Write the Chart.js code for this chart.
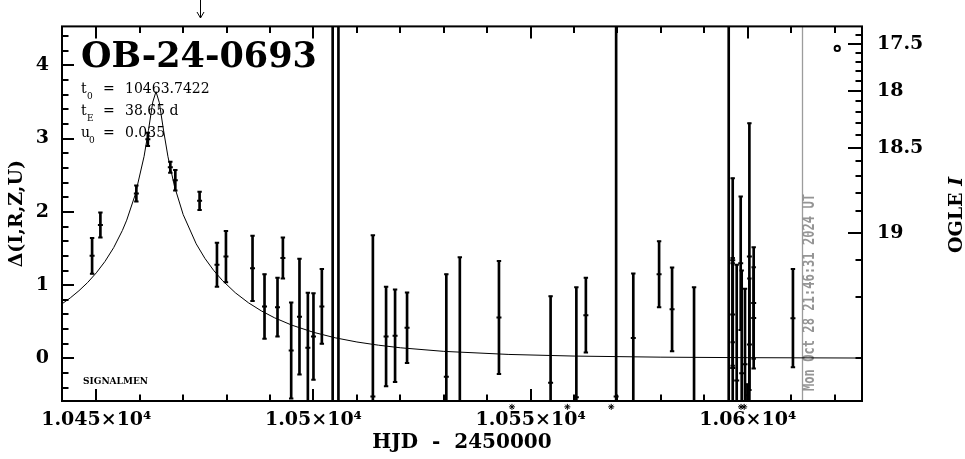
<!DOCTYPE html>
<html>
<head>
<meta charset="utf-8">
<script src="https://cdn.jsdelivr.net/npm/chart.js@4/dist/chart.umd.min.js"></script>
<style>
html,body{margin:0;padding:0;background:#fff;}
#wrap{width:965px;height:459px;position:relative;}
canvas{display:block;}
</style>
</head>
<body>
<div id="wrap"><canvas id="c" width="965" height="459"></canvas></div>
<script>
// ---- event info ----
const eventName = 'OB-24-0693';
const fitT0 = '10463.7422';
const fitTE = '38.65';
const fitU0 = '0.035';
const pipelineLabel = 'SIGNALMEN';

// ---- photometry: HJD-2450000, Delta (mag), error ----
const hjd = [10449.03, 10450.94, 10459.22, 10461.87, 10467.04, 10468.19, 10473.78, 10477.78, 10479.85, 10485.97,
             10488.73, 10491.72, 10492.96, 10494.87, 10496.78, 10498.71, 10500.00, 10501.93, 10504.42, 10505.75,
             10513.68, 10516.72, 10518.79, 10521.55, 10530.59, 10533.70, 10542.71, 10554.60, 10560.53, 10562.72,
             10569.69, 10573.64, 10579.58, 10582.57, 10587.63, 10595.61, 10596.53, 10596.53, 10596.53, 10597.45,
             10598.37, 10598.60, 10599.36, 10599.91, 10600.37, 10600.37, 10601.36, 10601.36, 10610.40];
const delta = [1.40, 1.82, 2.25, 2.99, 2.61, 2.43, 2.15, 1.28, 1.39, 1.23,
               0.71, 0.70, 1.37, 0.11, 0.57, 0.145, 0.30, 0.71, -0.70, -0.70,
               -0.52, 0.30, 0.31, 0.42, -0.25, -0.75, 0.56, -0.33, -0.53, 0.59,
               -0.52, 0.28, 1.15, 0.67, -0.60, -0.70, 1.34, 0.60, -0.13, -0.30,
               1.30, -0.20, -0.08, -0.50, 1.39, 0.19, 0.757, 0.553, 0.55];
const err = [0.245, 0.17, 0.11, 0.09, 0.075, 0.14, 0.125, 0.30, 0.35, 0.445,
             0.44, 0.40, 0.28, 0.655, 0.79, 0.75, 0.59, 0.51, 9.0, 9.0,
             2.20, 0.68, 0.63, 0.48, 1.40, 2.13, 0.77, 1.18, 1.50, 0.51,
             9.0, 0.88, 0.45, 0.57, 1.57, 9.0, 1.12, 0.70, 1.50, 1.58,
             0.91, 1.40, 1.03, 0.15, 1.82, 0.90, 0.76, 0.69, 0.67];

// points falling below the plotted range (marked with asterisks under the axis)
const offscaleHJD = [10545.70, 10558.46, 10568.56, 10598.44, 10599.18];
const offscaleDelta = [-0.66, -0.66, -0.66, -0.66, -0.66];

// single open-circle marker near the top right
const markerHJD = [10620.6];
const markerDelta = [4.23];

// ---- model curve ----
const modelHJD = [10442, 10444, 10446, 10448, 10450, 10452, 10454, 10456, 10457, 10459,
                  10461, 10462, 10463, 10463.74, 10464.5, 10465.5, 10466.5, 10468, 10470, 10473,
                  10475, 10477, 10479, 10482, 10485, 10488, 10491, 10495, 10500, 10505,
                  10510, 10515, 10520, 10530, 10545, 10560, 10580, 10600, 10627];
const modelDelta = [0.741, 0.826, 0.924, 1.036, 1.168, 1.324, 1.512, 1.746, 1.887, 2.242,
                    2.757, 3.110, 3.498, 3.640, 3.492, 3.104, 2.752, 2.348, 1.963, 1.564,
                    1.366, 1.203, 1.066, 0.897, 0.761, 0.649, 0.556, 0.455, 0.357, 0.282,
                    0.225, 0.181, 0.146, 0.097, 0.055, 0.033, 0.018, 0.011, 0.006];

// ---- axes ----
const xMin = 10442.1, xMax = 10626.3;
const yMin = -0.58, yMax = 4.53;
const xTickValues = [10450, 10500, 10550, 10600];
const xTickLabels = ['1.045×10⁴', '1.05×10⁴', '1.055×10⁴', '1.06×10⁴'];
const yTickValues = [0, 1, 2, 3, 4];
const yTickLabels = ['0', '1', '2', '3', '4'];
const ogleMajorMags = [17.5, 18, 18.5, 19];
const ogleMajorLabels = ['17.5', '18', '18.5', '19'];
const ogleMinorMags = [17.4, 17.6, 17.7, 17.8, 17.9, 18.1, 18.2, 18.3, 18.4, 18.6, 18.7, 18.8, 18.9, 19.1, 19.2, 19.3];
const ogleBaseMag = 19.30;   // baseline I magnitude
const ogleBlendFs = 0.083;   // source flux fraction
const xTitle = 'HJD  -  2450000';
const yTitle = 'Δ(I,R,Z,U)';
const yRTitleA = 'OGLE ';
const yRTitleB = 'I';
const nowHJD = 10612.4;
const nowText = 'Mon Oct 28 21:46:31 2024 UT';
const alertHJD = 10473.8;

function magToDelta(m) {
  const f = Math.pow(10, -0.4 * (m - ogleBaseMag));
  return 2.5 * Math.log10((f - (1 - ogleBlendFs)) / ogleBlendFs);
}

const SERIF = '"DejaVu Serif", "Liberation Serif", serif';
const tickFont = {family: SERIF, weight: 'bold', size: 19};
const titleFont = {family: SERIF, weight: 'bold', size: 20};

const barData = hjd.map((t, i) => ({x: t, y: [delta[i] - err[i], delta[i] + err[i]]}));
const loData = hjd.map((t, i) => ({x: t, y: delta[i] - err[i]}));
const hiData = hjd.map((t, i) => ({x: t, y: delta[i] + err[i]}));
const ctrData = hjd.map((t, i) => ({x: t, y: delta[i]}));
const modelData = modelHJD.map((t, i) => ({x: t, y: modelDelta[i]}));
const markData = markerHJD.map((t, i) => ({x: t, y: markerDelta[i]}));

const decor = {
  id: 'decor',
  beforeDatasetsDraw(chart) {
    const {ctx, chartArea: a, scales: {x}} = chart;
    const px = Math.round(x.getPixelForValue(nowHJD)) + 0.5;
    ctx.save();
    ctx.strokeStyle = '#9c9c9c';
    ctx.lineWidth = 1.3;
    ctx.beginPath(); ctx.moveTo(px, a.top); ctx.lineTo(px, a.bottom); ctx.stroke();
    ctx.translate(px + 8, a.bottom - 10);
    ctx.rotate(-Math.PI / 2);
    ctx.fillStyle = '#959595';
    ctx.font = 'bold 15px "DejaVu Sans Mono", "Liberation Mono", monospace';
    ctx.textAlign = 'left';
    ctx.textBaseline = 'middle';
    ctx.fillText(nowText, 0, 0, 197);
    ctx.restore();
  },
  afterDatasetsDraw(chart) {
    const {ctx, chartArea: a, scales: {x, y}} = chart;
    const MAJ = 12, MIN = 6.5;
    ctx.save();
    ctx.strokeStyle = '#000';
    ctx.lineWidth = 2;
    ctx.lineCap = 'butt';
    ctx.beginPath();
    // x ticks (bottom and top), every 10 days
    for (let v = Math.ceil(xMin / 10) * 10; v <= xMax; v += 10) {
      const p = Math.round(x.getPixelForValue(v));
      const len = (v % 50 === 0) ? MAJ : MIN;
      ctx.moveTo(p, a.bottom); ctx.lineTo(p, a.bottom - len);
      ctx.moveTo(p, a.top); ctx.lineTo(p, a.top + len);
    }
    // left ticks every 0.2
    for (let k = Math.ceil(yMin * 5); k <= Math.floor(yMax * 5); k++) {
      const v = k / 5;
      const p = Math.round(y.getPixelForValue(v));
      const len = (k % 5 === 0) ? MAJ : MIN;
      ctx.moveTo(a.left, p); ctx.lineTo(a.left + len, p);
    }
    // right ticks: OGLE I magnitudes
    ogleMajorMags.forEach(m => {
      const p = Math.round(y.getPixelForValue(magToDelta(m)));
      ctx.moveTo(a.right, p); ctx.lineTo(a.right - MAJ - 2, p);
    });
    ogleMinorMags.forEach(m => {
      const d = magToDelta(m);
      if (!isFinite(d) || d < yMin || d > yMax) return;
      const p = Math.round(y.getPixelForValue(d));
      ctx.moveTo(a.right, p); ctx.lineTo(a.right - MIN, p);
    });
    ctx.stroke();
    // frame
    ctx.strokeRect(a.left, a.top, a.right - a.left, a.bottom - a.top);
    // off-scale points: asterisks just below the axis, placed through the scales
    ctx.lineWidth = 1;
    ctx.strokeStyle = '#000';
    ctx.fillStyle = '#000';
    offscaleHJD.forEach((t, i) => {
      Chart.helpers.drawPoint(ctx, {pointStyle: 'star', radius: 3, borderWidth: 1, rotation: 0},
        x.getPixelForValue(t), y.getPixelForValue(offscaleDelta[i]));
    });
    ctx.restore();
  },
  afterDraw(chart) {
    const {ctx, chartArea: a, scales: {x}} = chart;
    ctx.save();
    ctx.fillStyle = '#000';
    ctx.textBaseline = 'alphabetic';
    ctx.textAlign = 'left';
    // event name
    ctx.font = 'bold 35px ' + SERIF;
    ctx.fillText(eventName, 81, 67);
    // fit parameters
    const big = '14px ' + SERIF, small = '9px ' + SERIF;
    function line(main, sub, subX, val, yb) {
      ctx.font = big; ctx.fillText(main, 81, yb);
      ctx.font = small; ctx.fillText(sub, subX, yb + 6);
      ctx.font = big; ctx.fillText('=', 103, yb); ctx.fillText(val, 125, yb);
    }
    line('t', '0', 87, fitT0, 93);
    line('t', 'E', 87, fitTE + ' d', 115);
    line('u', '0', 89, fitU0, 137);
    // pipeline label
    ctx.font = 'bold 9px ' + SERIF;
    ctx.fillText(pipelineLabel, 83, 384);
    // right axis title
    ctx.save();
    ctx.translate(957, 215);
    ctx.rotate(-Math.PI / 2);
    ctx.textBaseline = 'middle';
    const fA = 'bold 19px ' + SERIF, fB = 'italic bold 19px ' + SERIF;
    ctx.font = fA; const wA = ctx.measureText(yRTitleA).width;
    ctx.font = fB; const wB = ctx.measureText(yRTitleB).width;
    const x0 = -(wA + wB) / 2;
    ctx.font = fA; ctx.fillText(yRTitleA, x0, 0);
    ctx.font = fB; ctx.fillText(yRTitleB, x0 + wA, 0);
    ctx.restore();
    // arrow above plot
    const ax = Math.round(x.getPixelForValue(alertHJD)) + 0.5;
    ctx.strokeStyle = '#000';
    ctx.lineWidth = 1;
    ctx.beginPath();
    ctx.moveTo(ax, 0); ctx.lineTo(ax, 18);
    ctx.moveTo(ax - 3.5, 12); ctx.lineTo(ax, 18); ctx.lineTo(ax + 3.5, 12);
    ctx.stroke();
    ctx.restore();
  }
};

const capStyle = {pointStyle: 'line', pointRadius: 2.2, pointBorderWidth: 2, borderColor: '#000', backgroundColor: '#000', pointHoverRadius: 2.2};

new Chart(document.getElementById('c'), {
  type: 'scatter',
  data: {
    datasets: [
      {type: 'line', data: modelData, borderColor: '#000', borderWidth: 1, pointRadius: 0, tension: 0, fill: false, order: 5},
      {type: 'bar', data: barData, backgroundColor: '#000', borderWidth: 0, barThickness: 2, grouped: false, order: 4},
      Object.assign({type: 'scatter', data: loData, order: 3}, capStyle),
      Object.assign({type: 'scatter', data: hiData, order: 3}, capStyle),
      Object.assign({type: 'scatter', data: ctrData, order: 2}, capStyle, {pointRadius: 2.5}),
      {type: 'scatter', data: markData, pointStyle: 'circle', pointRadius: 2.6, pointBorderWidth: 2, borderColor: '#000', backgroundColor: '#fff', order: 1}
    ]
  },
  options: {
    responsive: false,
    animation: false,
    devicePixelRatio: 1,
    layout: {padding: {top: 26, left: 0, right: 0, bottom: 0}},
    plugins: {legend: {display: false}, tooltip: {enabled: false}},
    events: [],
    scales: {
      x: {
        type: 'linear', position: 'bottom', min: xMin, max: xMax, offset: false,
        grid: {display: false, drawTicks: false}, border: {display: false},
        afterBuildTicks: s => { s.ticks = xTickValues.map(v => ({value: v})); },
        ticks: {autoSkip: false, maxRotation: 0, minRotation: 0, padding: 8, color: '#000', font: tickFont,
                callback: (v, i) => xTickLabels[i]},
        title: {display: true, text: xTitle, color: '#000', font: titleFont, padding: {top: 0, bottom: 4}},
        afterFit: s => { s.height = 58; }
      },
      y: {
        type: 'linear', position: 'left', min: yMin, max: yMax,
        grid: {display: false, drawTicks: false}, border: {display: false},
        afterBuildTicks: s => { s.ticks = yTickValues.map(v => ({value: v})); },
        ticks: {autoSkip: false, padding: 13, color: '#000', font: tickFont,
                callback: (v, i) => yTickLabels[i]},
        title: {display: true, text: yTitle, color: '#000', font: tickFont, padding: {top: 6, bottom: 0}},
        afterFit: s => { s.width = 62; }
      },
      yR: {
        type: 'linear', position: 'right', min: yMin, max: yMax, display: true,
        grid: {display: false, drawTicks: false}, border: {display: false},
        afterBuildTicks: s => { s.ticks = ogleMajorMags.map(m => ({value: magToDelta(m)})); },
        ticks: {autoSkip: false, padding: 15, color: '#000', font: tickFont,
                callback: (v, i) => ogleMajorLabels[i]},
        afterFit: s => { s.width = 103; }
      }
    }
  },
  plugins: [decor]
});
</script>
</body>
</html>
